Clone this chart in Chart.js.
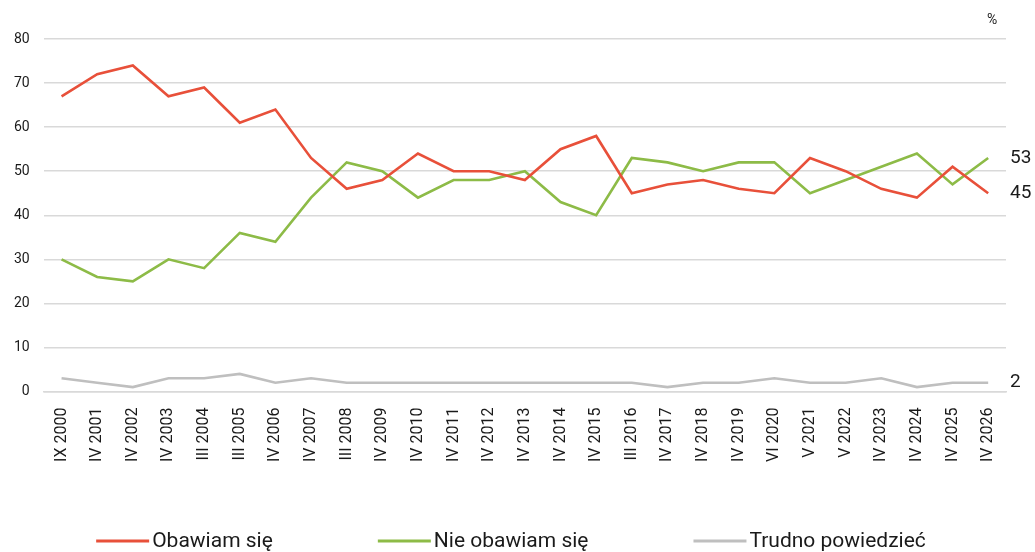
<!DOCTYPE html>
<html>
<head>
<meta charset="utf-8">
<script src="https://cdn.jsdelivr.net/npm/chart.js@4/dist/chart.umd.min.js"></script>
<style>
  html, body { margin: 0; padding: 0; background: #fff; }
  #wrap { width: 1035px; height: 552px; position: relative; }
</style>
</head>
<body>
<div id="wrap"><canvas id="chart"></canvas></div>
<script>
const categories = ['IX 2000', 'IV 2001', 'IV 2002', 'IV 2003', 'III 2004', 'III 2005', 'IV 2006', 'IV 2007',
    'III 2008', 'IV 2009', 'IV 2010', 'IV 2011', 'IV 2012', 'IV 2013', 'IV 2014', 'IV 2015', 'III 2016',
    'IV 2017', 'IV 2018', 'IV 2019', 'VI 2020', 'V 2021', 'V 2022', 'IV 2023', 'IV 2024', 'IV 2025', 'IV 2026'];

const obawiam = [67, 72, 74, 67, 69, 61, 64, 53, 46, 48, 54, 50, 50, 48, 55, 58, 45, 47, 48, 46, 45, 53, 50, 46, 44, 51, 45];
const nieObawiam = [30, 26, 25, 30, 28, 36, 34, 44, 52, 50, 44, 48, 48, 50, 43, 40, 53, 52, 50, 52, 52, 45, 48, 51, 54, 47, 53];
const trudno = [3, 2, 1, 3, 3, 4, 2, 3, 2, 2, 2, 2, 2, 2, 2, 2, 2, 1, 2, 2, 3, 2, 2, 3, 1, 2, 2];

const yTicks = [0, 10, 20, 30, 40, 50, 60, 70, 80];

const textColor = '#1a1a1a';

// last values written to the right of the plot, plus the "%" unit label
const endLabels = {
    id: 'endLabels',
    afterDatasetsDraw(chart) {
        const ctx = chart.ctx;
        const area = chart.chartArea;
        ctx.save();
        ctx.fillStyle = textColor;
        ctx.textBaseline = 'middle';
        ctx.textAlign = 'left';
        ctx.font = '19px Roboto';
        chart.data.datasets.forEach((ds, i) => {
            const meta = chart.getDatasetMeta(i);
            const last = meta.data[meta.data.length - 1];
            ctx.fillText(String(ds.data[ds.data.length - 1]), area.right + 4, last.y);
        });
        ctx.font = '14px Roboto';
        ctx.fillText('%', area.right - 19, 20);
        ctx.restore();
    }
};

// legend drawn by hand: line sample right next to the text, wide gaps between items
const bottomLegend = {
    id: 'bottomLegend',
    afterDraw(chart) {
        const ctx = chart.ctx;
        const lineLen = 53, gap = 3, itemGap = 105, y = 541;
        ctx.save();
        ctx.font = '21px Roboto';
        ctx.textBaseline = 'middle';
        ctx.textAlign = 'left';
        const items = chart.data.datasets.map(ds => ({
            label: ds.label, color: ds.borderColor, w: lineLen + gap + ctx.measureText(ds.label).width
        }));
        const total = items.reduce((s, it) => s + it.w, 0) + itemGap * (items.length - 1);
        let x = 511 - total / 2;
        items.forEach(it => {
            ctx.strokeStyle = it.color;
            ctx.lineWidth = 3;
            ctx.beginPath();
            ctx.moveTo(x, y);
            ctx.lineTo(x + lineLen, y);
            ctx.stroke();
            ctx.fillStyle = textColor;
            ctx.fillText(it.label, x + lineLen + gap, y + 1);
            x += it.w + itemGap;
        });
        ctx.restore();
    }
};

new Chart(document.getElementById('chart'), {
    type: 'line',
    data: {
        labels: categories,
        datasets: [
            { label: 'Obawiam się', data: obawiam, borderColor: '#e8503a', backgroundColor: '#e8503a' },
            { label: 'Nie obawiam się', data: nieObawiam, borderColor: '#8dbb47', backgroundColor: '#8dbb47' },
            { label: 'Trudno powiedzieć', data: trudno, borderColor: '#bfbfbf', backgroundColor: '#bfbfbf' }
        ]
    },
    options: {
        responsive: true,
        maintainAspectRatio: false,
        animation: false,
        elements: {
            line: { borderWidth: 2.6, tension: 0 },
            point: { radius: 0 }
        },
        layout: { padding: { top: 39, right: 29, left: 0, bottom: 82 } },
        plugins: {
            tooltip: { enabled: false },
            legend: { display: false }
        },
        scales: {
            x: {
                offset: true,
                grid: { display: false },
                border: { color: '#d9d9d9', width: 1.5 },
                ticks: {
                    color: textColor,
                    font: { family: 'Roboto', size: 16 },
                    minRotation: 90,
                    maxRotation: 90,
                    autoSkip: false,
                    padding: 8
                }
            },
            y: {
                min: 0,
                max: 80,
                afterBuildTicks(axis) { axis.ticks = yTicks.map(v => ({ value: v })); },
                grid: { color: '#d9d9d9', lineWidth: 1.5, drawTicks: false },
                border: { display: false },
                ticks: {
                    color: textColor,
                    font: { family: 'Roboto', size: 14 },
                    padding: 14
                }
            }
        }
    },
    plugins: [endLabels, bottomLegend]
});
</script>
</body>
</html>
